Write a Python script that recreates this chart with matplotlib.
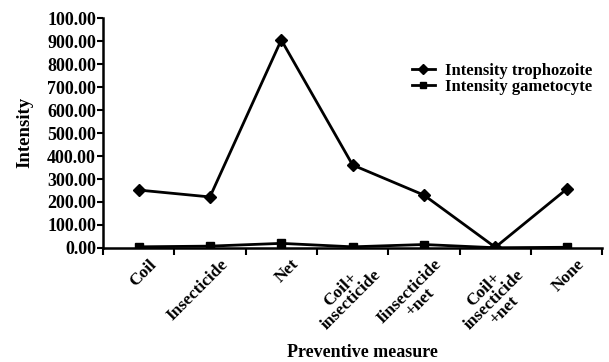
import matplotlib.pyplot as plt
import matplotlib.transforms as mtransforms
from matplotlib.ticker import FixedLocator, FixedFormatter

# data
measures = ["Coil", "Insecticide", "Net", "Coil+\ninsecticide", "Iinsecticide\n+net",
            "Coil+\ninsecticide\n+net", "None"]
trophozoite = [252, 222, 905, 361, 230, 3, 256]
gametocyte = [5, 8, 20, 5, 15, 1, 3]
ytick_vals = [0, 100, 200, 300, 400, 500, 600, 700, 800, 900, 1000]
ytick_labels = ["0.00", "100.00", "200.00", "300.00", "400.00", "500.00",
                "600.00", "700.00", "800.00", "900.00", "100.00"]

plt.rcParams['font.family'] = ['Liberation Serif', 'DejaVu Serif']
plt.rcParams['font.weight'] = 'bold'

fig = plt.figure(figsize=(6.09, 3.62), dpi=100)
ax = fig.add_axes([0.169, 0.315, 0.82, 0.635])

x = list(range(len(measures)))
ax.plot(x, trophozoite, color='black', lw=2, marker='D', ms=6, label='Intensity trophozoite')
ax.plot(x, gametocyte, color='black', lw=2, marker='s', ms=6, label='Intensity gametocyte')

ax.set_xlim(-0.5, len(measures) - 0.5)
ax.set_ylim(0, 1000)
ax.spines['top'].set_visible(False)
ax.spines['right'].set_visible(False)
ax.spines['left'].set_linewidth(1.8)
ax.spines['bottom'].set_linewidth(1.8)

ax.yaxis.set_major_locator(FixedLocator(ytick_vals))
ax.yaxis.set_major_formatter(FixedFormatter(ytick_labels))
ax.tick_params(axis='y', direction='out', length=4, width=1.5, labelsize=13, pad=1)

ax.set_xticks(x)
ax.set_xticklabels(measures, rotation=45, ha='right', rotation_mode='anchor',
                   multialignment='center', fontsize=12.5, linespacing=0.9)
ax.set_xticks([i - 0.5 for i in range(len(measures) + 1)], minor=True)
ax.tick_params(axis='x', which='major', length=0, pad=6)
ax.tick_params(axis='x', which='minor', direction='out', length=5, width=1.5)
# nudge the rotated labels a bit to the right like the original
shift = mtransforms.ScaledTranslation(7 / 72, 0, fig.dpi_scale_trans)
for lbl in ax.get_xticklabels():
    lbl.set_transform(lbl.get_transform() + shift)

fig.text(0.041, 0.635, 'Intensity', rotation=90, fontsize=13.5, fontweight='bold',
         ha='center', va='center')
fig.text(0.595, 0.025, 'Preventive measure', fontsize=13, fontweight='bold',
         ha='center', va='center')

ax.legend(loc='upper right', bbox_to_anchor=(1.01, 0.87), frameon=False, fontsize=12,
          handlelength=1.4, handletextpad=0.6, labelspacing=0.0, markerscale=0.8)

fig.savefig('out.png', dpi=100)
